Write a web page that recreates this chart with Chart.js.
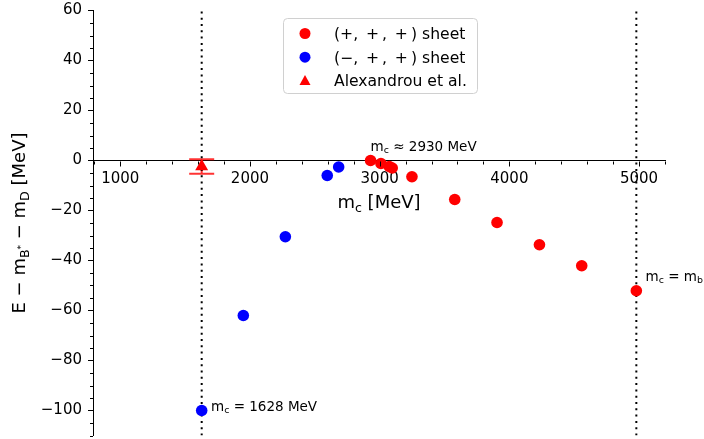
<!DOCTYPE html>
<html lang="en">
<head>
  <meta charset="UTF-8">
  <title>E - mB* - mD vs mc</title>
  <script src="https://cdn.jsdelivr.net/npm/chart.js"></script>
  <style>
    body { margin: 0; background: #fff; }
    canvas { display: block; }
  </style>
</head>
<body>
  <canvas id="energyChart" width="704" height="439"></canvas>

  <script>
    // (+, +, +) sheet
    const redX = [2930, 3010, 3074, 3097, 3249, 3579, 3905, 4232, 4558, 4979];
    const redY = [0, -1.2, -2.4, -3.0, -6.5, -15.6, -24.8, -33.7, -42.1, -52.1];
    // (−, +, +) sheet
    const blueX = [1628, 1949, 2273, 2596, 2684];
    const blueY = [-100, -62, -30.5, -6, -2.6];
    // Alexandrou et al.
    const alexX = [1628];
    const alexY = [-2.4];
    const alexLow = [-5.3];
    const alexHigh = [0.5];
    // dotted guides: m_c = 1628 MeV and m_c = m_b
    const guideX = [1628, 4979];

    const xTicks = [1000, 2000, 3000, 4000, 5000];
    const yTicks = [-100, -80, -60, -40, -20, 0, 20, 40, 60];
    const legendLabels = [
      '(+,\u2002+\u2009,\u2002+\u2009) sheet',
      '(\u2212,\u2002+\u2009,\u2002+\u2009) sheet',
      'Alexandrou et al.'
    ];

    const FONT = "'DejaVu Sans', sans-serif";
    const minus = v => (v < 0 ? '\u2212' + Math.abs(v) : String(v));

    // draws text made of normal / sub / subsup pieces
    function mathText(ctx, parts, x, y, size, align) {
      const spec = k => k === 'sub' ? [size * 0.7, size * 0.22]
                      : k === 'subsup' ? [size * 0.5, -size * 0.05]
                      : [size, 0];
      let w = 0;
      for (const [t, k] of parts) {
        ctx.font = spec(k)[0] + 'px ' + FONT;
        w += ctx.measureText(t).width;
      }
      let cx = align === 'center' ? x - w / 2 : x;
      ctx.textAlign = 'left';
      ctx.textBaseline = 'alphabetic';
      for (const [t, k] of parts) {
        const [s, dy] = spec(k);
        ctx.font = s + 'px ' + FONT;
        ctx.fillText(t, cx, y + dy);
        cx += ctx.measureText(t).width;
      }
    }

    const extras = {
      id: 'extras',
      beforeDatasetsDraw(chart) {
        const ctx = chart.ctx, xs = chart.scales.x, ys = chart.scales.y;
        ctx.save();
        ctx.strokeStyle = 'rgba(255,0,0,0.8)';
        ctx.lineWidth = 2;
        alexX.forEach((v, i) => {
          const px = xs.getPixelForValue(v);
          const t = ys.getPixelForValue(alexHigh[i]);
          const b = ys.getPixelForValue(alexLow[i]);
          ctx.beginPath();
          ctx.moveTo(px, t); ctx.lineTo(px, b);
          ctx.moveTo(px - 12.5, t); ctx.lineTo(px + 12.5, t);
          ctx.moveTo(px - 12.5, b); ctx.lineTo(px + 12.5, b);
          ctx.stroke();
        });
        ctx.restore();
      },
      afterDraw(chart) {
        const ctx = chart.ctx, xs = chart.scales.x, ys = chart.scales.y;
        const area = chart.chartArea;
        const y0 = Math.round(ys.getPixelForValue(0)) + 0.5;
        ctx.save();
        ctx.strokeStyle = '#000';
        ctx.lineWidth = 1;
        ctx.beginPath();
        // x ticks (major + minor) under the zero line
        for (let v = 800; v <= xs.max; v += 200) {
          if (v < xs.min) continue;
          const px = Math.round(xs.getPixelForValue(v)) + 0.5;
          const len = v % 1000 === 0 ? 5 : 3;
          ctx.moveTo(px, y0); ctx.lineTo(px, y0 + len);
        }
        // y minor ticks
        for (let v = -110; v <= ys.max; v += 5) {
          if (v % 20 === 0) continue;
          const py = Math.round(ys.getPixelForValue(v)) + 0.5;
          ctx.moveTo(area.left, py); ctx.lineTo(area.left - 3, py);
        }
        ctx.stroke();

        ctx.fillStyle = '#000';
        // axis titles
        mathText(ctx, [['m', ''], ['c', 'sub'], [' [MeV]', '']],
          (area.left + area.right) / 2, 208, 18, 'center');
        ctx.save();
        ctx.translate(25, (area.top + area.bottom) / 2);
        ctx.rotate(-Math.PI / 2);
        mathText(ctx, [['E \u2212 m', ''], ['B', 'sub'], ['*', 'subsup'],
          [' \u2212 m', ''], ['D', 'sub'], [' [MeV]', '']], 0, 0, 18, 'center');
        ctx.restore();

        // annotations
        mathText(ctx, [['m', ''], ['c', 'sub'], [' \u2248 2930 MeV', '']],
          xs.getPixelForValue(2930), ys.getPixelForValue(4), 13.5, 'left');
        mathText(ctx, [['m', ''], ['c', 'sub'], [' = 1628 MeV', '']],
          xs.getPixelForValue(1700), ys.getPixelForValue(-100), 13.5, 'left');
        mathText(ctx, [['m', ''], ['c', 'sub'], [' = m', ''], ['b', 'sub']],
          xs.getPixelForValue(5050), ys.getPixelForValue(-48), 13.5, 'left');

        // legend
        const bx = 283, by = 18, bw = 194, bh = 75;
        ctx.beginPath();
        ctx.roundRect(bx + 0.5, by + 0.5, bw, bh, 4);
        ctx.fillStyle = 'rgba(255,255,255,0.8)';
        ctx.fill();
        ctx.strokeStyle = '#d0d0d0';
        ctx.stroke();
        const items = chart.data.datasets.filter(d => legendLabels.includes(d.label));
        items.forEach((d, i) => {
          const ry = 33.5 + i * 23.7;
          ctx.fillStyle = d.backgroundColor;
          ctx.beginPath();
          if (d.pointStyle === 'triangle') {
            ctx.moveTo(305, ry - 6); ctx.lineTo(310.5, ry + 4); ctx.lineTo(299.5, ry + 4);
            ctx.closePath();
          } else {
            ctx.arc(305, ry, 5.5, 0, Math.PI * 2);
          }
          ctx.fill();
          ctx.fillStyle = '#000';
          ctx.font = '15.6px ' + FONT;
          ctx.textAlign = 'left';
          ctx.textBaseline = 'alphabetic';
          ctx.fillText(d.label, 334, ry + 5.5);
        });
        ctx.restore();
      }
    };

    const pts = (xs, ys) => xs.map((x, i) => ({ x, y: ys[i] }));

    new Chart(document.getElementById('energyChart'), {
      type: 'scatter',
      data: {
        datasets: [
          {
            label: legendLabels[0],
            data: pts(redX, redY),
            backgroundColor: '#ff0000',
            pointRadius: 5.8,
            borderWidth: 0,
            order: 1
          },
          {
            label: legendLabels[1],
            data: pts(blueX, blueY),
            backgroundColor: '#0000ff',
            pointRadius: 5.8,
            borderWidth: 0,
            order: 1
          },
          {
            label: legendLabels[2],
            data: pts(alexX, alexY),
            backgroundColor: '#ff0000',
            pointStyle: 'triangle',
            pointRadius: 7.5,
            borderWidth: 0,
            order: 0
          },
          ...guideX.map(g => ({
            label: 'guide',
            data: [{ x: g, y: -110 }, { x: g, y: 60 }],
            showLine: true,
            borderColor: '#000',
            borderWidth: 2,
            borderDash: [2, 4.3],
            pointRadius: 0,
            order: 5
          }))
        ]
      },
      options: {
        responsive: false,
        animation: false,
        layout: { autoPadding: false, padding: { top: 10.5, right: 39, bottom: 3.5, left: 0 } },
        plugins: { legend: { display: false }, tooltip: { enabled: false } },
        scales: {
          x: {
            type: 'linear',
            position: { y: 0 },
            min: 790,
            max: 5200,
            afterBuildTicks: s => { s.ticks = xTicks.map(v => ({ value: v })); },
            afterFit: s => {
              s.height = 0;
              s.paddingLeft = 0; s.paddingRight = 0;
              s.paddingTop = 0; s.paddingBottom = 0;
            },
            grid: { drawOnChartArea: false, drawTicks: false },
            border: { display: true, color: '#000', width: 1 },
            ticks: {
              padding: 9.3,
              maxRotation: 0,
              autoSkip: false,
              color: '#000',
              font: { family: FONT, size: 15 },
              callback: v => minus(v)
            }
          },
          y: {
            type: 'linear',
            position: 'left',
            min: -110,
            max: 60,
            afterBuildTicks: s => { s.ticks = yTicks.map(v => ({ value: v })); },
            afterFit: s => {
              s.width = 93;
              s.paddingTop = 0; s.paddingBottom = 0;
              s.paddingLeft = 0; s.paddingRight = 0;
            },
            grid: { drawOnChartArea: false, drawTicks: true, tickLength: 5, tickColor: '#000' },
            border: { display: true, color: '#000', width: 1 },
            ticks: {
              padding: 6,
              color: '#000',
              font: { family: FONT, size: 15 },
              callback: v => minus(v)
            }
          }
        }
      },
      plugins: [extras]
    });
  </script>
</body>
</html>
